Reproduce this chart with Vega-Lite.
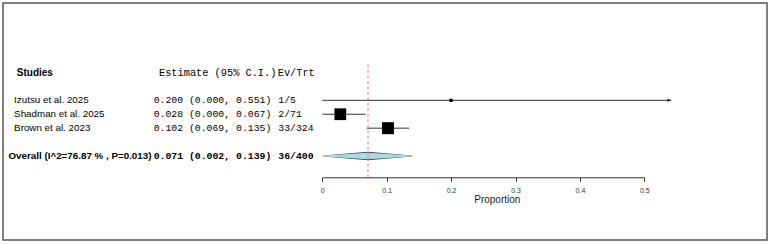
{
  "$schema": "https://vega.github.io/schema/vega-lite/v6.json",
  "width": 764,
  "height": 237,
  "padding": {"left": 3, "top": 3, "right": 5, "bottom": 5},
  "background": "white",
  "config": {
    "view": {"stroke": "#555", "strokeWidth": 1.5},
    "font": "Liberation Sans"
  },
  "datasets": {
    "header": [
      {"study": "Studies", "estimate": "Estimate (95% C.I.)", "evtrt": "Ev/Trt"}
    ],
    "studies": [
      {"study": "Izutsu et al. 2025", "events": 1, "total": 5, "est": 0.200, "lower": 0.000, "upper": 0.551, "weight": 3.6},
      {"study": "Shadman et al. 2025", "events": 2, "total": 71, "est": 0.028, "lower": 0.000, "upper": 0.067, "weight": 47.3},
      {"study": "Brown et al. 2023", "events": 33, "total": 324, "est": 0.102, "lower": 0.069, "upper": 0.135, "weight": 49.2}
    ],
    "overall": [
      {"study": "Overall (I^2=76.87 % , P=0.013)", "events": 36, "total": 400, "est": 0.071, "lower": 0.002, "upper": 0.139}
    ]
  },
  "encoding": {
    "y": {
      "field": "study",
      "type": "nominal",
      "scale": {
        "type": "point",
        "domain": ["Studies", "gap-a", "Izutsu et al. 2025", "Shadman et al. 2025", "Brown et al. 2023", "gap-b", "Overall (I^2=76.87 % , P=0.013)"],
        "range": [69.5, 153],
        "padding": 0
      },
      "axis": null
    }
  },
  "layer": [
    {
      "layer": [
        {
          "data": {"name": "header"},
          "mark": {"type": "text", "align": "left", "baseline": "middle", "font": "Liberation Sans", "fontWeight": "bold", "fontSize": 10, "dx": 2.7, "color": "#000"},
          "encoding": {
            "x": {"datum": "name", "type": "nominal", "scale": {"type": "point", "domain": ["name", "est", "ev"], "range": [11.1, 275.3], "padding": 0}, "axis": null},
            "text": {"field": "study"}
          }
        },
        {
          "data": {"name": "header"},
          "mark": {"type": "text", "align": "left", "baseline": "middle", "font": "Liberation Mono", "fontSize": 10.3, "dx": 12.8, "color": "#000"},
          "encoding": {
            "x": {"datum": "est", "type": "nominal", "scale": {"type": "point", "domain": ["name", "est", "ev"], "range": [11.1, 275.3], "padding": 0}, "axis": null},
            "text": {"field": "estimate"}
          }
        },
        {
          "data": {"name": "header"},
          "mark": {"type": "text", "align": "left", "baseline": "middle", "font": "Liberation Mono", "fontSize": 10.3, "dx": -0.6, "color": "#000"},
          "encoding": {
            "x": {"datum": "ev", "type": "nominal", "scale": {"type": "point", "domain": ["name", "est", "ev"], "range": [11.1, 275.3], "padding": 0}, "axis": null},
            "text": {"field": "evtrt"}
          }
        },
        {
          "data": {"name": "studies"},
          "mark": {"type": "text", "align": "left", "baseline": "middle", "font": "Liberation Sans", "fontSize": 9.8, "color": "#000"},
          "encoding": {
            "x": {"datum": "name", "type": "nominal", "scale": {"type": "point", "domain": ["name", "est", "ev"], "range": [11.1, 275.3], "padding": 0}, "axis": null},
            "text": {"field": "study"}
          }
        },
        {
          "data": {"name": "studies"},
          "transform": [
            {"calculate": "format(datum.est, '.3f') + ' (' + format(datum.lower, '.3f') + ', ' + format(datum.upper, '.3f') + ')'", "as": "ci"}
          ],
          "mark": {"type": "text", "align": "left", "baseline": "middle", "font": "Liberation Mono", "fontSize": 9.8, "dx": 7.5, "color": "#000"},
          "encoding": {
            "x": {"datum": "est", "type": "nominal", "scale": {"type": "point", "domain": ["name", "est", "ev"], "range": [11.1, 275.3], "padding": 0}, "axis": null},
            "text": {"field": "ci"}
          }
        },
        {
          "data": {"name": "studies"},
          "transform": [
            {"calculate": "datum.events + '/' + datum.total", "as": "evtrt"}
          ],
          "mark": {"type": "text", "align": "left", "baseline": "middle", "font": "Liberation Mono", "fontSize": 9.8, "color": "#000"},
          "encoding": {
            "x": {"datum": "ev", "type": "nominal", "scale": {"type": "point", "domain": ["name", "est", "ev"], "range": [11.1, 275.3], "padding": 0}, "axis": null},
            "text": {"field": "evtrt"}
          }
        },
        {
          "data": {"name": "overall"},
          "mark": {"type": "text", "align": "left", "baseline": "middle", "font": "Liberation Sans", "fontWeight": "bold", "fontSize": 9.8, "dx": -5.6, "color": "#000"},
          "encoding": {
            "x": {"datum": "name", "type": "nominal", "scale": {"type": "point", "domain": ["name", "est", "ev"], "range": [11.1, 275.3], "padding": 0}, "axis": null},
            "text": {"field": "study"}
          }
        },
        {
          "data": {"name": "overall"},
          "transform": [
            {"calculate": "format(datum.est, '.3f') + ' (' + format(datum.lower, '.3f') + ', ' + format(datum.upper, '.3f') + ')'", "as": "ci"}
          ],
          "mark": {"type": "text", "align": "left", "baseline": "middle", "font": "Liberation Mono", "fontWeight": "bold", "fontSize": 9.8, "dx": 7.5, "color": "#000"},
          "encoding": {
            "x": {"datum": "est", "type": "nominal", "scale": {"type": "point", "domain": ["name", "est", "ev"], "range": [11.1, 275.3], "padding": 0}, "axis": null},
            "text": {"field": "ci"}
          }
        },
        {
          "data": {"name": "overall"},
          "transform": [
            {"calculate": "datum.events + '/' + datum.total", "as": "evtrt"}
          ],
          "mark": {"type": "text", "align": "left", "baseline": "middle", "font": "Liberation Mono", "fontWeight": "bold", "fontSize": 9.8, "color": "#000"},
          "encoding": {
            "x": {"datum": "ev", "type": "nominal", "scale": {"type": "point", "domain": ["name", "est", "ev"], "range": [11.1, 275.3], "padding": 0}, "axis": null},
            "text": {"field": "evtrt"}
          }
        }
      ]
    },
    {
      "data": {"name": "studies"},
      "layer": [
        {
          "mark": {"type": "rule", "color": "#333", "strokeWidth": 1},
          "encoding": {
            "x": {
              "field": "lower", "type": "quantitative",
              "scale": {"domain": [0, 0.542], "range": [319.3, 668.3], "clamp": true, "nice": false, "zero": false},
              "axis": {"orient": "bottom", "offset": -62.7, "domain": false, "ticks": false, "labels": false, "grid": false, "title": "Proportion", "titleFont": "Liberation Sans", "titleFontSize": 10, "titleFontWeight": "normal", "titleColor": "#222", "titlePadding": 17}
            },
            "x2": {"field": "upper"}
          }
        },
        {
          "mark": {"type": "square", "color": "#000", "filled": true, "opacity": 1},
          "encoding": {
            "x": {
              "field": "est", "type": "quantitative",
              "scale": {"domain": [0, 0.542], "range": [319.3, 668.3], "clamp": true, "nice": false, "zero": false},
              "axis": {"orient": "bottom", "offset": -62.7, "domain": false, "ticks": false, "labels": false, "grid": false, "title": "Proportion", "titleFont": "Liberation Sans", "titleFontSize": 10, "titleFontWeight": "normal", "titleColor": "#222", "titlePadding": 17}
            },
            "size": {"field": "weight", "type": "quantitative", "scale": {"domain": [0, 50], "range": [0, 146]}, "legend": null}
          }
        },
        {
          "transform": [{"filter": "datum.upper > 0.5"}],
          "mark": {"type": "point", "shape": "M0,0L-1.4,-0.6L-1.4,0.6Z", "filled": true, "color": "#333", "opacity": 1, "size": 33},
          "encoding": {
            "x": {
              "field": "upper", "type": "quantitative",
              "scale": {"domain": [0, 0.542], "range": [319.3, 668.3], "clamp": true, "nice": false, "zero": false},
              "axis": {"orient": "bottom", "offset": -62.7, "domain": false, "ticks": false, "labels": false, "grid": false, "title": "Proportion", "titleFont": "Liberation Sans", "titleFontSize": 10, "titleFontWeight": "normal", "titleColor": "#222", "titlePadding": 17}
            }
          }
        },
        {
          "data": {"name": "overall"},
          "transform": [{"fold": ["lower", "est", "upper"], "as": ["key", "value"]}],
          "mark": {"type": "trail", "color": "#444"},
          "encoding": {
            "x": {
              "field": "value", "type": "quantitative",
              "scale": {"domain": [0, 0.542], "range": [319.3, 668.3], "clamp": true, "nice": false, "zero": false},
              "axis": {"orient": "bottom", "offset": -62.7, "domain": false, "ticks": false, "labels": false, "grid": false, "title": "Proportion", "titleFont": "Liberation Sans", "titleFontSize": 10, "titleFontWeight": "normal", "titleColor": "#222", "titlePadding": 17}
            },
            "size": {"field": "key", "type": "ordinal", "scale": {"type": "ordinal", "domain": ["lower", "est", "upper"], "range": [1, 8.5, 1]}, "legend": null}
          }
        },
        {
          "data": {"name": "overall"},
          "transform": [{"fold": ["lower", "est", "upper"], "as": ["key", "value"]}],
          "mark": {"type": "trail", "color": "#add8e6"},
          "encoding": {
            "x": {
              "field": "value", "type": "quantitative",
              "scale": {"domain": [0, 0.542], "range": [319.3, 668.3], "clamp": true, "nice": false, "zero": false},
              "axis": {"orient": "bottom", "offset": -62.7, "domain": false, "ticks": false, "labels": false, "grid": false, "title": "Proportion", "titleFont": "Liberation Sans", "titleFontSize": 10, "titleFontWeight": "normal", "titleColor": "#222", "titlePadding": 17}
            },
            "size": {"field": "key", "type": "ordinal", "scale": {"type": "ordinal", "domain": ["lower", "est", "upper"], "range": [0, 6.5, 0]}, "legend": null}
          }
        }
      ],
      "resolve": {"scale": {"size": "independent"}}
    },
    {
      "data": {"name": "overall"},
      "mark": {"type": "rule", "color": "#f07878", "strokeDash": [3, 2.5], "strokeWidth": 1, "yOffset": -8.2, "y2Offset": 21.3},
      "encoding": {
        "x": {
          "field": "est", "type": "quantitative",
          "scale": {"domain": [0, 0.5], "range": [319.3, 641.3], "nice": false, "zero": false},
          "axis": {"orient": "bottom", "offset": -62.7, "values": [0, 0.1, 0.2, 0.3, 0.4, 0.5], "format": "~g", "title": null, "grid": false, "domainColor": "#333", "domainWidth": 1, "tickColor": "#333", "tickSize": 4, "labelFont": "Liberation Sans", "labelFontSize": 7, "labelColor": "#333", "labelPadding": 5, "labelFlush": false}
        },
        "y": {"datum": "Studies", "type": "nominal"},
        "y2": {"datum": "Overall (I^2=76.87 % , P=0.013)"}
      }
    }
  ],
  "resolve": {"scale": {"x": "independent"}}
}
